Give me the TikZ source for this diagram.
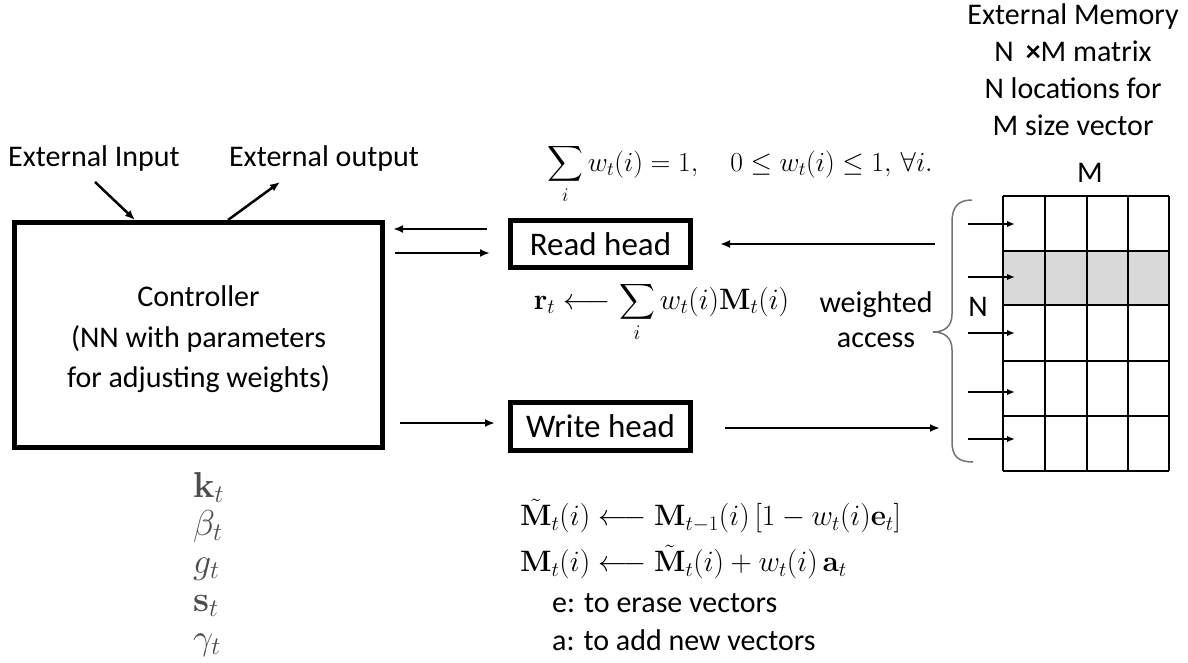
\RequirePackage{fix-cm}
\documentclass[tikz,border=0pt]{standalone}
\usepackage{exscale}
\usepackage[no-math]{fontspec}
\setmainfont{Carlito}
\usetikzlibrary{arrows.meta,calc}
\begin{document}
\begin{tikzpicture}[x=1pt,y=-1pt,
  lab/.style={font=\fontsize{30}{37}\selectfont, inner sep=0pt, align=center},
  headlab/.style={font=\fontsize{33}{38}\selectfont},
  arr/.style={-{Latex[length=10pt,width=8pt]}, line width=2.5pt},
  arrsmall/.style={-{Latex[length=8pt,width=6.5pt]}, line width=2pt},
  box/.style={draw, line width=5pt, inner sep=0pt},
  gridl/.style={line width=1.5pt},
  mathbig/.style={font=\fontsize{29.5}{34}\selectfont, inner sep=0pt},
  param/.style={font=\fontsize{36}{40}\selectfont, text=black!70, inner sep=0pt, anchor=base west}]
\useasboundingbox (0,0) rectangle (1188,663);

% controller
\node[box, minimum width=368pt, minimum height=225pt] (ctrl) at (198.5,335) {};
\node[lab, font=\fontsize{30}{40.5}\selectfont] (ctrltext) at (198.5,339.5)
  {Controller\\(NN with parameters\\for adjusting weights)};

% heads
\node[box, headlab, minimum width=180pt, minimum height=47pt] (read) at (600.5,244) {Read head};
\node[box, headlab, minimum width=180pt, minimum height=48pt] (write) at (600.5,426.5) {Write head};

% external labels
\node[lab, anchor=base] (inlab) at (94,167) {External Input};
\node[lab, anchor=base] (outlab) at (324,167) {External output};
\coordinate (inS) at (95,182);
\coordinate (outE) at (280,182);
\draw[arr] (inS) -- ([xshift=123pt]ctrl.north west);
\draw[arr] ([xshift=216pt]ctrl.north west) -- (outE);

% controller <-> heads
\coordinate (ra) at ([yshift=15pt]read.west);
\coordinate (rb) at ([yshift=-9pt]read.west);
\coordinate (wa) at ([yshift=3.5pt]write.west);
\draw[arr, shorten <=21pt, shorten >=8pt] (ra) -- (ctrl.east |- ra);
\draw[arr, shorten <=10pt, shorten >=18pt] (ctrl.east |- rb) -- (rb);
\draw[arr, shorten <=15pt, shorten >=13pt] (ctrl.east |- wa) -- (wa);

% heads <-> memory
\coordinate (mr) at (935,244);
\coordinate (mw) at (940,428);
\draw[arr, shorten >=27pt] (mr) -- (read.east |- mr);
\draw[arr, shorten <=32pt] (write.east |- mw) -- (mw);

% formulas
\node[font=\fontsize{27.5}{32}\selectfont, inner sep=0pt] (wsum) at (740,174)
  {$\displaystyle\sum_i w_t(i)=1,\quad 0\le w_t(i)\le 1,\,\forall i.$};
\node[mathbig] (rform) at (661.5,312)
  {$\displaystyle\mathbf{r}_t\longleftarrow\sum_i w_t(i)\mathbf{M}_t(i)$};
\node[mathbig, anchor=west] (mtil) at (520,516)
  {$\tilde{\mathbf{M}}_t(i)\longleftarrow\mathbf{M}_{t-1}(i)\,[1-w_t(i)\mathbf{e}_t]$};
\node[mathbig, anchor=west] (mnew) at (520,562)
  {$\mathbf{M}_t(i)\longleftarrow\tilde{\mathbf{M}}_t(i)+w_t(i)\,\mathbf{a}_t$};
\node[lab, align=left, anchor=west, font=\fontsize{30}{38}\selectfont] (notes) at (552,622)
  {e: to erase vectors\\a: to add new vectors};
\node[lab, font=\fontsize{30}{35}\selectfont] (wacc) at (876,320) {weighted\\access};

% controller parameters
\node[param] (kt) at (193,497) {$\mathbf{k}_t$};
\node[param] (bt) at (193,535) {$\beta_t$};
\node[param] (gt) at (193,573) {$g_t$};
\node[param] (st) at (193,611) {$\mathbf{s}_t$};
\node[param] (yt) at (193,649) {$\gamma_t$};

% memory labels
\node[lab] (memlab) at (1073,70)
  {External Memory\\N\hspace{0.4em}{\bfseries ×}M matrix\\N locations for\\M size vector};
\node[lab] (mlab) at (1090,173) {M};
\node[lab] (nlab) at (978,307) {N};

% memory grid
\fill[black!15] (1003,251) rectangle (1169,305);
\foreach \y in {196,251,305,361,416,471} \draw[gridl] (1003,\y) -- (1169,\y);
\foreach \x in {1003,1045,1087,1128,1169} \draw[gridl] (\x,196) -- (\x,471);

% brace
\draw[black!55, line width=1.5pt] (972,200) .. controls (958,200) and (952,207) .. (952,222)
  -- (952,314) .. controls (952,326) and (945,332) .. (933,332)
  .. controls (945,332) and (952,338) .. (952,350)
  -- (952,442) .. controls (952,456) and (958,462) .. (973,462);

% row arrows
\foreach \y [count=\i] in {224,277,333,392,439} {
  \coordinate (pa\i) at (968,\y);
  \coordinate (pb\i) at (1015,\y);
  \draw[arrsmall] (pa\i) -- (pb\i);
}
\end{tikzpicture}
\end{document}
